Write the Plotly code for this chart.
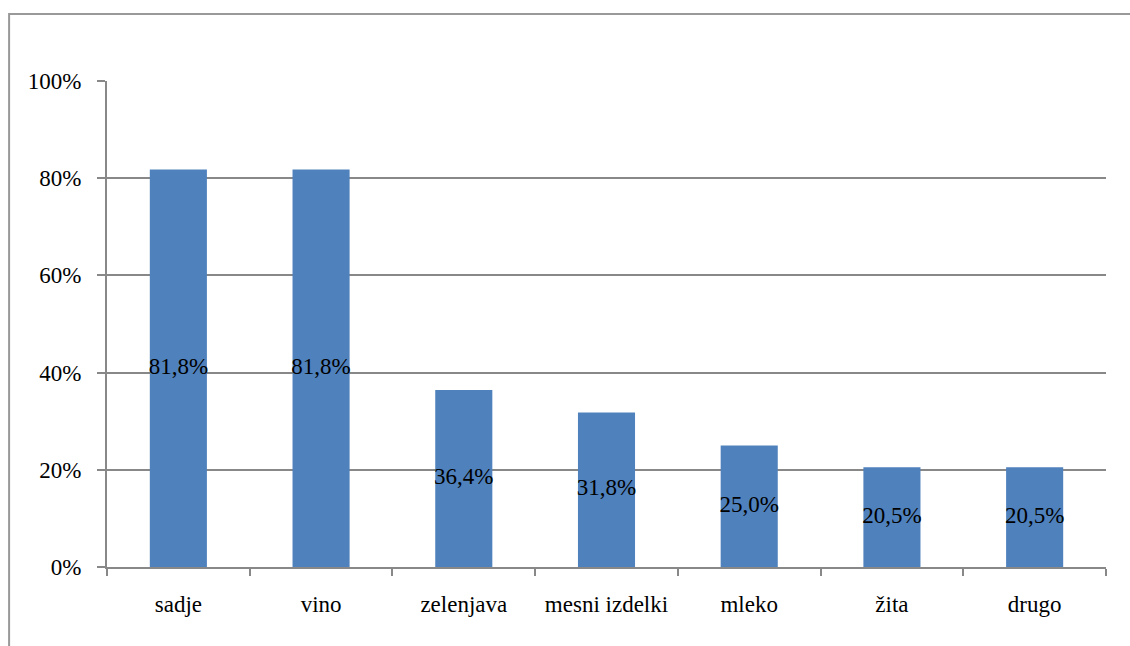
import plotly.graph_objects as go

categories = ["sadje", "vino", "zelenjava", "mesni izdelki", "mleko", "žita", "drugo"]
values = [81.8, 81.8, 36.4, 31.8, 25.0, 20.5, 20.5]
y_ticks = [0, 20, 40, 60, 80, 100]

FONT = "Liberation Serif"
labels = [f"{v:.1f}%".replace(".", ",") for v in values]

fig = go.Figure()
fig.add_trace(go.Bar(
    x=categories, y=values,
    marker=dict(color="#4f81bd", line=dict(width=0)),
    width=0.4,
    hoverinfo="skip",
))
fig.add_trace(go.Scatter(
    x=categories, y=[v / 2 for v in values],
    mode="text", text=labels, textposition="middle center",
    textfont=dict(family=FONT, size=23, color="black"),
    cliponaxis=False, hoverinfo="skip",
))

fig.update_layout(
    width=1130, height=646,
    margin=dict(l=107, r=24, t=81, b=79),
    paper_bgcolor="white", plot_bgcolor="white",
    showlegend=False,
    font=dict(family=FONT, size=23, color="black"),
    shapes=[
        dict(type="rect", xref="paper", yref="paper",
             x0=-0.098, x1=1.2, y0=-0.3, y1=1.138,
             line=dict(color="#999999", width=2), layer="below"),
    ],
)

fig.update_xaxes(
    showline=True, linecolor="#888888", linewidth=2,
    ticks="outside", tickson="boundaries", ticklen=7, tickcolor="#888888", tickwidth=2,
    ticklabelstandoff=15,
    tickfont=dict(family=FONT, size=23, color="black"),
    showgrid=False,
)
fig.update_yaxes(
    range=[0, 100], tickvals=y_ticks, ticktext=[f"{t}%" for t in y_ticks],
    showline=True, linecolor="#888888", linewidth=2,
    ticks="outside", ticklen=8, tickcolor="#888888", tickwidth=2,
    showgrid=True, gridcolor="#888888", gridwidth=1.5,
    ticklabelstandoff=11,
    tickfont=dict(family=FONT, size=23, color="black"),
    zeroline=False,
)

fig.write_html("out.html")
